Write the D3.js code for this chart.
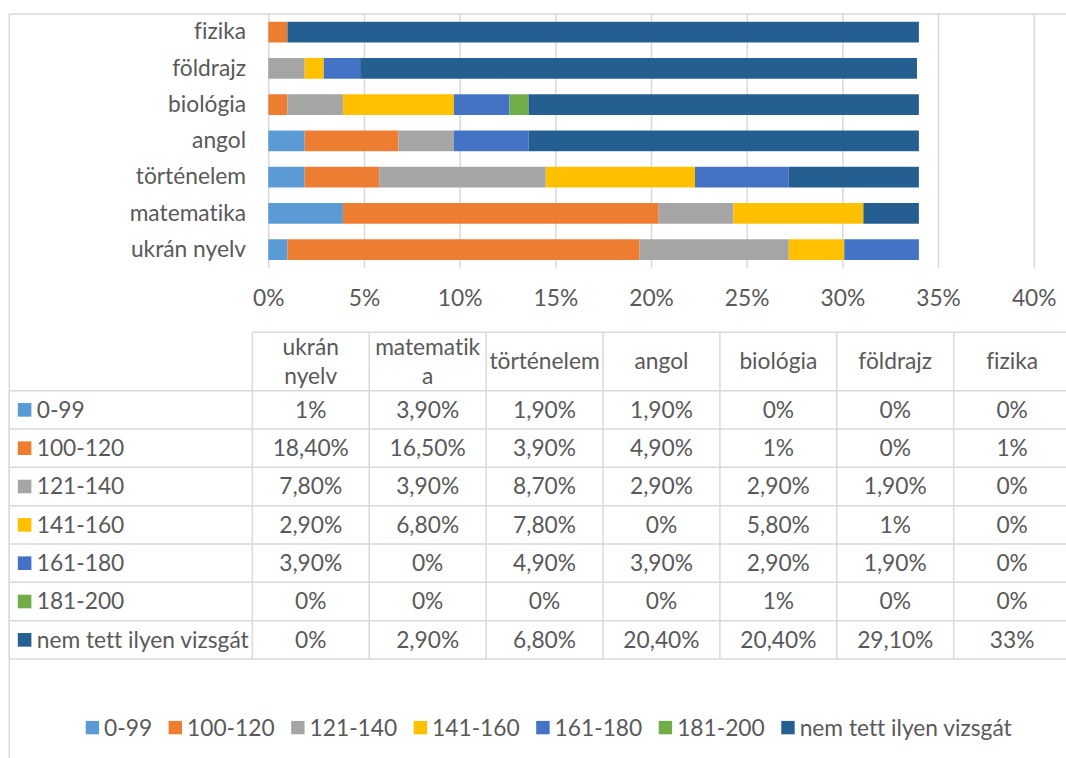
<!DOCTYPE html>
<html lang="hu">
<head>
<meta charset="UTF-8" />
<title>vizsga eredmények</title>
<script src="https://cdn.jsdelivr.net/npm/d3@7/dist/d3.min.js"></script>
<style>
  body { margin: 0; background: #fff; }
  svg { display: block; font-family: "Lato", sans-serif; font-variant-ligatures: none; }
  text { fill: #595959; }
</style>
</head>
<body>
<div id="chart"></div>
<script>
  // tantárgyak (alulról felfelé a grafikonon)
  const subjects = ['ukrán nyelv', 'matematika', 'történelem', 'angol', 'biológia', 'földrajz', 'fizika'];
  // fejléc a táblázatban, ahogy az Excel tördelte
  const headerLabels = ['ukrán\nnyelv', 'matematik\na', 'történelem', 'angol', 'biológia', 'földrajz', 'fizika'];
  const ranges = ['0-99', '100-120', '121-140', '141-160', '161-180', '181-200', 'nem tett ilyen vizsgát'];
  const colors = ['#5b9bd5', '#ed7d31', '#a5a5a5', '#ffc000', '#4472c4', '#70ad47', '#255e91'];

  // százalék, sávonként, a tantárgyak sorrendjében
  const v0_99   = [1, 3.9, 1.9, 1.9, 0, 0, 0];
  const v100    = [18.4, 16.5, 3.9, 4.9, 1, 0, 1];
  const v121    = [7.8, 3.9, 8.7, 2.9, 2.9, 1.9, 0];
  const v141    = [2.9, 6.8, 7.8, 0, 5.8, 1, 0];
  const v161    = [3.9, 0, 4.9, 3.9, 2.9, 1.9, 0];
  const v181    = [0, 0, 0, 0, 1, 0, 0];
  const vNincs  = [0, 2.9, 6.8, 20.4, 20.4, 29.1, 33];
  const seriesValues = [v0_99, v100, v121, v141, v161, v181, vNincs];

  const xTicks = [0, 5, 10, 15, 20, 25, 30, 35, 40];

  const W = 1066, H = 758;
  const fs = 22.75;
  const plotL = 268.3, plotR = 1033.7, plotT = 14, plotB = 267.75;

  const svg = d3.select('#chart').append('svg').attr('width', W).attr('height', H);

  // chart area border
  svg.append('rect').attr('x', 9.3).attr('y', 14).attr('width', 1080).attr('height', 760)
     .attr('fill', 'none').attr('stroke', '#d9d9d9').attr('stroke-width', 1.5);

  const x = d3.scaleLinear().domain([0, 40]).range([plotL, plotR]);
  const y = d3.scaleBand().domain(subjects.slice().reverse()).range([plotT, plotB])
              .paddingInner(0.75 / 1.75).paddingOuter(0.75 / 3.5);

  // gridlines + tick labels
  const gx = svg.append('g').attr('transform', `translate(0,${plotB})`)
    .call(d3.axisBottom(x).tickValues(xTicks).tickSize(-(plotB - plotT)).tickPadding(22).tickFormat(d => d + '%'));
  gx.select('.domain').remove();
  gx.selectAll('line').attr('stroke', '#d9d9d9').attr('stroke-width', 1.5);
  gx.selectAll('text').attr('font-size', fs).attr('font-family', 'Lato').attr('fill', '#595959');

  // stacked bars
  const rows = subjects.map((s, i) => {
    const r = { subject: s };
    ranges.forEach((k, j) => r[k] = seriesValues[j][i]);
    return r;
  });
  const stacked = d3.stack().keys(ranges)(rows);
  svg.append('g').selectAll('g').data(stacked).join('g')
     .attr('fill', (d, i) => colors[i])
     .selectAll('rect').data(d => d).join('rect')
     .attr('x', d => x(d[0]))
     .attr('y', d => y(d.data.subject))
     .attr('width', d => x(d[1]) - x(d[0]))
     .attr('height', y.bandwidth());

  // category labels
  const gy = svg.append('g').attr('transform', `translate(${plotL},0)`)
    .call(d3.axisLeft(y).tickSize(0).tickPadding(22.3));
  gy.select('.domain').remove();
  gy.selectAll('text').attr('font-size', fs).attr('font-family', 'Lato').attr('fill', '#595959');

  // data table
  const tL = 9.3, tC = 252.3, colW = 116.9;
  const tTop = 332.3, headB = 390.7, rowH = 38.33;
  const tRight = tC + colW * subjects.length;
  const tBottom = headB + rowH * ranges.length;
  const tbl = svg.append('g');
  const lineCol = '#d9d9d9';

  tbl.append('line').attr('x1', tC).attr('x2', tRight).attr('y1', tTop).attr('y2', tTop);
  d3.range(ranges.length + 1).forEach(i => {
    const yy = headB + i * rowH;
    tbl.append('line').attr('x1', tL).attr('x2', tRight).attr('y1', yy).attr('y2', yy);
  });
  d3.range(subjects.length + 1).forEach(i => {
    const xx = tC + i * colW;
    tbl.append('line').attr('x1', xx).attr('x2', xx).attr('y1', tTop).attr('y2', tBottom);
  });
  tbl.append('line').attr('x1', tL).attr('x2', tL).attr('y1', headB).attr('y2', tBottom);
  tbl.selectAll('line').attr('stroke', lineCol).attr('stroke-width', 1.5);

  // header
  headerLabels.forEach((h, i) => {
    const lines = h.split('\n');
    const cx = tC + (i + 0.5) * colW;
    const cy = (tTop + headB) / 2;
    const lh = 29;
    lines.forEach((ln, k) => {
      tbl.append('text').attr('x', cx).attr('y', cy + (k - (lines.length - 1) / 2) * lh)
         .attr('dy', '0.35em').attr('text-anchor', 'middle').attr('font-size', fs).text(ln);
    });
  });

  const fmt = v => Number.isInteger(v) ? v + '%' : v.toFixed(2).replace('.', ',') + '%';

  ranges.forEach((r, j) => {
    const cy = headB + (j + 0.5) * rowH;
    tbl.append('rect').attr('x', 17.8).attr('y', cy - 6.8).attr('width', 13.6).attr('height', 13.6).attr('fill', colors[j]);
    tbl.append('text').attr('x', 36.7).attr('y', cy).attr('dy', '0.35em').attr('font-size', fs).text(r);
    seriesValues[j].forEach((v, i) => {
      tbl.append('text').attr('x', tC + (i + 0.5) * colW).attr('y', cy).attr('dy', '0.35em')
         .attr('text-anchor', 'middle').attr('font-size', fs).text(fmt(v));
    });
  });

  // legend
  const lg = svg.append('g');
  const legY = 727.7;
  const items = ranges.map((r, j) => {
    const g = lg.append('g');
    g.append('rect').attr('x', 0).attr('y', legY - 6.8).attr('width', 13.4).attr('height', 13.4).attr('fill', colors[j]);
    const t = g.append('text').attr('x', 18.4).attr('y', legY).attr('dy', '0.35em').attr('font-size', fs).text(r);
    return { g, w: 18.4 + t.node().getComputedTextLength() };
  });
  const gap = 16.5;
  const total = d3.sum(items, d => d.w) + gap * (items.length - 1);
  let cx = 548.7 - total / 2;
  items.forEach(it => {
    it.g.attr('transform', `translate(${cx},0)`);
    cx += it.w + gap;
  });
</script>
</body>
</html>
